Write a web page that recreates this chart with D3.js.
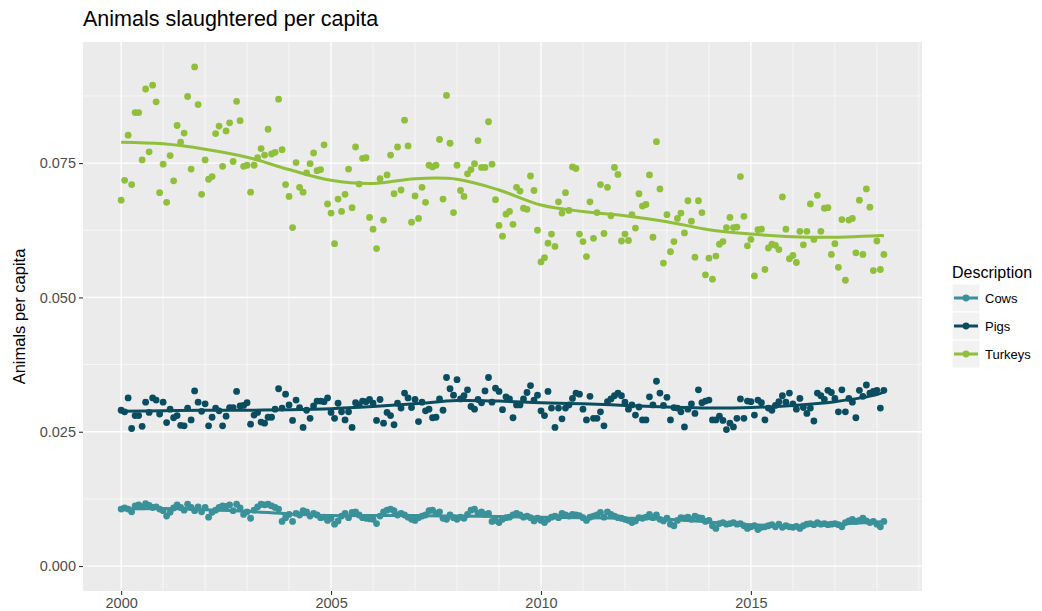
<html>
  <meta charset="utf-8" />
  <script src="https://d3js.org/d3.v7.min.js"></script>
  <style>
    body { margin: 0; background: #fff; }
    text { font-family: "Liberation Sans", Arial, sans-serif; }
  </style>
  <body>
    <svg width="1042" height="611" id="chart"></svg>
  </body>
  <script>
    // monthly observations, first one is January 2000
    const startYear = 2000;
    const seriesNames = ["Cows", "Pigs", "Turkeys"];
    const seriesColors = ["#3a9199", "#0a4d60", "#8fbf3b"];

    const cows = [
      0.0106, 0.0108, 0.0106, 0.0101, 0.0112, 0.0114, 0.0110, 0.0116, 0.0113, 0.0109,
      0.0110, 0.0106, 0.0103, 0.0093, 0.0100, 0.0108, 0.0114, 0.0109, 0.0104, 0.0115,
      0.0109, 0.0103, 0.0110, 0.0101, 0.0109, 0.0091, 0.0100, 0.0104, 0.0109, 0.0112,
      0.0111, 0.0114, 0.0103, 0.0115, 0.0108, 0.0096, 0.0101, 0.0089, 0.0104, 0.0110,
      0.0115, 0.0114, 0.0115, 0.0112, 0.0109, 0.0106, 0.0083, 0.0090, 0.0096, 0.0083,
      0.0098, 0.0095, 0.0103, 0.0101, 0.0093, 0.0098, 0.0095, 0.0090, 0.0091, 0.0085,
      0.0089, 0.0078, 0.0084, 0.0093, 0.0098, 0.0090, 0.0100, 0.0101, 0.0095, 0.0090,
      0.0089, 0.0088, 0.0087, 0.0079, 0.0093, 0.0101, 0.0104, 0.0106, 0.0103, 0.0095,
      0.0098, 0.0095, 0.0091, 0.0087, 0.0085, 0.0090, 0.0093, 0.0095, 0.0103, 0.0104,
      0.0098, 0.0101, 0.0089, 0.0087, 0.0095, 0.0090, 0.0087, 0.0091, 0.0089, 0.0096,
      0.0104, 0.0106, 0.0098, 0.0101, 0.0096, 0.0098, 0.0083, 0.0085, 0.0081, 0.0087,
      0.0090, 0.0091, 0.0095, 0.0098, 0.0095, 0.0091, 0.0093, 0.0090, 0.0084, 0.0089,
      0.0085, 0.0081, 0.0087, 0.0091, 0.0093, 0.0090, 0.0098, 0.0095, 0.0093, 0.0096,
      0.0095, 0.0094, 0.0090, 0.0085, 0.0091, 0.0093, 0.0095, 0.0100, 0.0091, 0.0101,
      0.0096, 0.0093, 0.0090, 0.0089, 0.0087, 0.0085, 0.0081, 0.0084, 0.0090, 0.0089,
      0.0091, 0.0096, 0.0090, 0.0095, 0.0087, 0.0084, 0.0089, 0.0078, 0.0075, 0.0085,
      0.0090, 0.0089, 0.0091, 0.0087, 0.0093, 0.0090, 0.0089, 0.0083, 0.0085, 0.0075,
      0.0070, 0.0079, 0.0081, 0.0078, 0.0079, 0.0081, 0.0078, 0.0079, 0.0075, 0.0070,
      0.0073, 0.0075, 0.0068, 0.0072, 0.0073, 0.0075, 0.0077, 0.0073, 0.0078, 0.0072,
      0.0075, 0.0073, 0.0072, 0.0074, 0.0070, 0.0075, 0.0078, 0.0079, 0.0077, 0.0081,
      0.0078, 0.0079, 0.0077, 0.0078, 0.0079, 0.0077, 0.0073, 0.0081, 0.0084, 0.0087,
      0.0083, 0.0085, 0.0089, 0.0084, 0.0081, 0.0083, 0.0078, 0.0073, 0.0083
    ];

    const pigs = [
      0.0290, 0.0287, 0.0313, 0.0256, 0.0280, 0.0280, 0.0260, 0.0305, 0.0286, 0.0313,
      0.0309, 0.0283, 0.0305, 0.0267, 0.0292, 0.0276, 0.0280, 0.0262, 0.0261, 0.0294,
      0.0272, 0.0326, 0.0305, 0.0288, 0.0302, 0.0261, 0.0277, 0.0294, 0.0289, 0.0261,
      0.0279, 0.0295, 0.0295, 0.0325, 0.0298, 0.0299, 0.0304, 0.0264, 0.0281, 0.0286,
      0.0268, 0.0266, 0.0277, 0.0277, 0.0292, 0.0330, 0.0294, 0.0320, 0.0300, 0.0271,
      0.0309, 0.0295, 0.0258, 0.0290, 0.0275, 0.0298, 0.0307, 0.0307, 0.0306, 0.0313,
      0.0286, 0.0275, 0.0303, 0.0287, 0.0272, 0.0287, 0.0258, 0.0304, 0.0300, 0.0307,
      0.0306, 0.0310, 0.0303, 0.0271, 0.0310, 0.0266, 0.0286, 0.0280, 0.0263, 0.0303,
      0.0294, 0.0322, 0.0313, 0.0295, 0.0310, 0.0269, 0.0305, 0.0289, 0.0292, 0.0276,
      0.0277, 0.0311, 0.0290, 0.0351, 0.0330, 0.0318, 0.0347, 0.0311, 0.0317, 0.0328,
      0.0297, 0.0292, 0.0310, 0.0304, 0.0326, 0.0351, 0.0305, 0.0331, 0.0325, 0.0291,
      0.0315, 0.0311, 0.0276, 0.0300,
      0.0300, 0.0311, 0.0323, 0.0336, 0.0309, 0.0318, 0.0289, 0.0280, 0.0325, 0.0294,
      0.0258, 0.0294, 0.0274, 0.0294, 0.0300, 0.0312, 0.0322, 0.0320, 0.0292, 0.0272,
      0.0316, 0.0275, 0.0275, 0.0287, 0.0261, 0.0306, 0.0311, 0.0317, 0.0322, 0.0317,
      0.0305, 0.0292, 0.0300, 0.0281, 0.0296, 0.0272, 0.0272, 0.0315, 0.0300, 0.0344,
      0.0322, 0.0299, 0.0314, 0.0272, 0.0295, 0.0294, 0.0287, 0.0259, 0.0292, 0.0302,
      0.0284, 0.0328, 0.0304, 0.0307, 0.0309, 0.0272, 0.0272, 0.0279, 0.0271, 0.0254,
      0.0266, 0.0259, 0.0275, 0.0311, 0.0275, 0.0307, 0.0306, 0.0281, 0.0309, 0.0304,
      0.0272, 0.0294, 0.0290, 0.0299, 0.0306, 0.0317, 0.0305, 0.0322, 0.0302, 0.0292,
      0.0312, 0.0295, 0.0284, 0.0294, 0.0270, 0.0322, 0.0317, 0.0310, 0.0327, 0.0323,
      0.0312, 0.0287, 0.0328, 0.0287, 0.0312, 0.0305, 0.0276, 0.0327, 0.0316, 0.0337,
      0.0322, 0.0325, 0.0327, 0.0294, 0.0327
    ];

    const turkeys = [
      0.0681, 0.0718, 0.0802, 0.0710, 0.0844, 0.0844, 0.0756, 0.0888, 0.0771, 0.0895,
      0.0864, 0.0695, 0.0748, 0.0677, 0.0764, 0.0717, 0.0820, 0.0789, 0.0806, 0.0874,
      0.0739, 0.0929, 0.0859, 0.0692, 0.0756, 0.0720, 0.0725, 0.0805, 0.0819, 0.0744,
      0.0810, 0.0825, 0.0753, 0.0865, 0.0829, 0.0744, 0.0746, 0.0696, 0.0746, 0.0760,
      0.0777, 0.0765, 0.0813, 0.0767, 0.0770, 0.0869, 0.0775, 0.0710, 0.0688, 0.0630,
      0.0751, 0.0705, 0.0696, 0.0732, 0.0749, 0.0769, 0.0736, 0.0738, 0.0784, 0.0674,
      0.0657, 0.0600, 0.0683, 0.0660, 0.0692, 0.0739, 0.0667, 0.0780, 0.0711, 0.0759,
      0.0760, 0.0649, 0.0627, 0.0591, 0.0721, 0.0644, 0.0728, 0.0765, 0.0693, 0.0780,
      0.0700, 0.0830, 0.0782, 0.0640, 0.0689, 0.0647, 0.0705, 0.0677, 0.0746, 0.0743,
      0.0746, 0.0794, 0.0683, 0.0876, 0.0787, 0.0658, 0.0746, 0.0699, 0.0688, 0.0730,
      0.0738, 0.0749, 0.0792, 0.0742, 0.0742, 0.0827, 0.0748, 0.0682, 0.0634, 0.0614,
      0.0655, 0.0660, 0.0636, 0.0705, 0.0698, 0.0666, 0.0664, 0.0726, 0.0699, 0.0625,
      0.0566, 0.0574, 0.0601, 0.0618, 0.0595, 0.0678, 0.0657, 0.0695, 0.0662, 0.0743,
      0.0740, 0.0618, 0.0604, 0.0576, 0.0678, 0.0610, 0.0658, 0.0710, 0.0619, 0.0705,
      0.0652, 0.0742, 0.0729, 0.0605, 0.0618, 0.0606, 0.0654, 0.0629, 0.0693, 0.0670,
      0.0673, 0.0728, 0.0612, 0.0790, 0.0702, 0.0564, 0.0654, 0.0585, 0.0604, 0.0647,
      0.0657, 0.0620, 0.0680, 0.0642, 0.0575, 0.0680, 0.0658, 0.0542, 0.0573, 0.0534,
      0.0577, 0.0599, 0.0604, 0.0630, 0.0649, 0.0630, 0.0631, 0.0725, 0.0651, 0.0596,
      0.0608, 0.0540, 0.0626, 0.0627, 0.0552, 0.0592, 0.0599, 0.0597, 0.0589, 0.0687,
      0.0627, 0.0572, 0.0578, 0.0565, 0.0623, 0.0598, 0.0623, 0.0674, 0.0608, 0.0690,
      0.0623, 0.0666, 0.0667, 0.0580, 0.0600, 0.0556, 0.0645, 0.0532, 0.0644, 0.0647,
      0.0583, 0.0681, 0.0580, 0.0702, 0.0668, 0.0550, 0.0605, 0.0552, 0.0580
    ];

    // smoothed trend
    const smoothYears = [2000, 2001, 2002, 2003, 2004, 2005, 2006, 2007, 2008, 2009,
      2010, 2011, 2012, 2013, 2014, 2015, 2016, 2017, 2018, 2018.17];
    const cowsSmooth = [0.0106, 0.0107, 0.0105, 0.0102, 0.0097, 0.0094, 0.0094, 0.0094, 0.0093, 0.0092,
      0.0091, 0.0090, 0.0089, 0.0087, 0.0082, 0.0077, 0.0075, 0.0078, 0.0082, 0.0083];
    const pigsSmooth = [0.0288, 0.0289, 0.0290, 0.0290, 0.0291, 0.0293, 0.0297, 0.0302, 0.0308, 0.0307,
      0.0304, 0.0302, 0.0299, 0.0296, 0.0294, 0.0295, 0.0299, 0.0306, 0.0319, 0.0324];
    const turkeysSmooth = [0.0789, 0.0786, 0.0776, 0.0761, 0.0738, 0.0718, 0.0712, 0.0721, 0.0720, 0.0700,
      0.0672, 0.0660, 0.0652, 0.0641, 0.0626, 0.0618, 0.0613, 0.0612, 0.0615, 0.0615];

    const xMajor = [2000, 2005, 2010, 2015];
    const yMajor = [0, 0.025, 0.05, 0.075];

    function drawChart() {
      const svg = d3.select("#chart");
      const panel = { left: 83, right: 922, top: 42, bottom: 591 };

      const allSeries = [cows, pigs, turkeys];
      const smooths = [cowsSmooth, pigsSmooth, turkeysSmooth];
      const dateOf = (i) => startYear + i / 12;

      // ggplot style 5% expansion
      const xLo = startYear, xHi = dateOf(turkeys.length - 1);
      const xPad = (xHi - xLo) * 0.05;
      const x = d3.scaleLinear().domain([xLo - xPad, xHi + xPad]).range([panel.left, panel.right]);

      const yHi = d3.max(allSeries, (s) => d3.max(s));
      const yPad = yHi * 0.05;
      const y = d3.scaleLinear().domain([-yPad, yHi + yPad]).range([panel.bottom, panel.top]);

      svg.append("rect")
        .attr("x", panel.left).attr("y", panel.top)
        .attr("width", panel.right - panel.left).attr("height", panel.bottom - panel.top)
        .attr("fill", "#ebebeb");

      const grid = svg.append("g");
      const xMinor = d3.range(2001, 2020).filter((v) => !xMajor.includes(v));
      const yMinor = [0.0125, 0.0375, 0.0625, 0.0875];

      grid.selectAll(".xminor").data(xMinor).enter().append("line")
        .attr("x1", (d) => x(d)).attr("x2", (d) => x(d))
        .attr("y1", panel.top).attr("y2", panel.bottom)
        .attr("stroke", "#fff").attr("stroke-width", 0.6);
      grid.selectAll(".yminor").data(yMinor).enter().append("line")
        .attr("y1", (d) => y(d)).attr("y2", (d) => y(d))
        .attr("x1", panel.left).attr("x2", panel.right)
        .attr("stroke", "#fff").attr("stroke-width", 0.6);
      grid.selectAll(".xmajor").data(xMajor).enter().append("line")
        .attr("x1", (d) => x(d)).attr("x2", (d) => x(d))
        .attr("y1", panel.top).attr("y2", panel.bottom)
        .attr("stroke", "#fff").attr("stroke-width", 1.3);
      grid.selectAll(".ymajor").data(yMajor).enter().append("line")
        .attr("y1", (d) => y(d)).attr("y2", (d) => y(d))
        .attr("x1", panel.left).attr("x2", panel.right)
        .attr("stroke", "#fff").attr("stroke-width", 1.3);

      // points
      allSeries.forEach((s, k) => {
        svg.append("g").selectAll("circle").data(s).enter().append("circle")
          .attr("cx", (d, i) => x(dateOf(i)))
          .attr("cy", (d) => y(d))
          .attr("r", 3.4)
          .attr("fill", seriesColors[k]);
      });

      // trend lines
      const line = d3.line()
        .x((d, i) => x(smoothYears[i]))
        .y((d) => y(d))
        .curve(d3.curveCatmullRom);
      smooths.forEach((s, k) => {
        svg.append("path")
          .attr("d", line(s))
          .attr("fill", "none")
          .attr("stroke", seriesColors[k])
          .attr("stroke-width", 3);
      });

      // axes
      const yAxis = svg.append("g")
        .attr("transform", `translate(${panel.left},0)`)
        .call(d3.axisLeft(y).tickValues(yMajor).tickFormat(d3.format(".3f")).tickSize(4).tickPadding(3));
      const xAxis = svg.append("g")
        .attr("transform", `translate(0,${panel.bottom})`)
        .call(d3.axisBottom(x).tickValues(xMajor).tickFormat(d3.format("d")).tickSize(4).tickPadding(3));
      [xAxis, yAxis].forEach((a) => {
        a.select(".domain").remove();
        a.selectAll("line").attr("stroke", "#333").attr("stroke-width", 1.1);
        a.selectAll("text")
          .attr("fill", "#4d4d4d")
          .style("font-size", "14.5px")
          .style("font-family", '"Liberation Sans", Arial, sans-serif');
      });

      svg.append("text")
        .attr("x", panel.left)
        .attr("y", 26)
        .style("font-size", "21.5px")
        .attr("fill", "#000")
        .text("Animals slaughtered per capita");

      svg.append("text")
        .attr("transform", `translate(25,${(panel.top + panel.bottom) / 2}) rotate(-90)`)
        .attr("text-anchor", "middle")
        .style("font-size", "16.5px")
        .attr("fill", "#000")
        .text("Animals per capita");

      // legend
      const legend = svg.append("g").attr("transform", "translate(952,0)");
      legend.append("text")
        .attr("x", 0).attr("y", 278)
        .style("font-size", "16px")
        .text("Description");
      seriesNames.forEach((name, k) => {
        const top = 284 + k * 28;
        legend.append("rect")
          .attr("x", 0).attr("y", top).attr("width", 28).attr("height", 28)
          .attr("fill", "#f2f2f2").attr("stroke", "#fff").attr("stroke-width", 1);
        legend.append("line")
          .attr("x1", 2).attr("x2", 26).attr("y1", top + 14).attr("y2", top + 14)
          .attr("stroke", seriesColors[k]).attr("stroke-width", 3);
        legend.append("circle")
          .attr("cx", 14).attr("cy", top + 14).attr("r", 3.4)
          .attr("fill", seriesColors[k]);
        legend.append("text")
          .attr("x", 33).attr("y", top + 14).attr("dy", "0.35em")
          .style("font-size", "13px")
          .text(name);
      });
    }

    drawChart();
  </script>
</html>
